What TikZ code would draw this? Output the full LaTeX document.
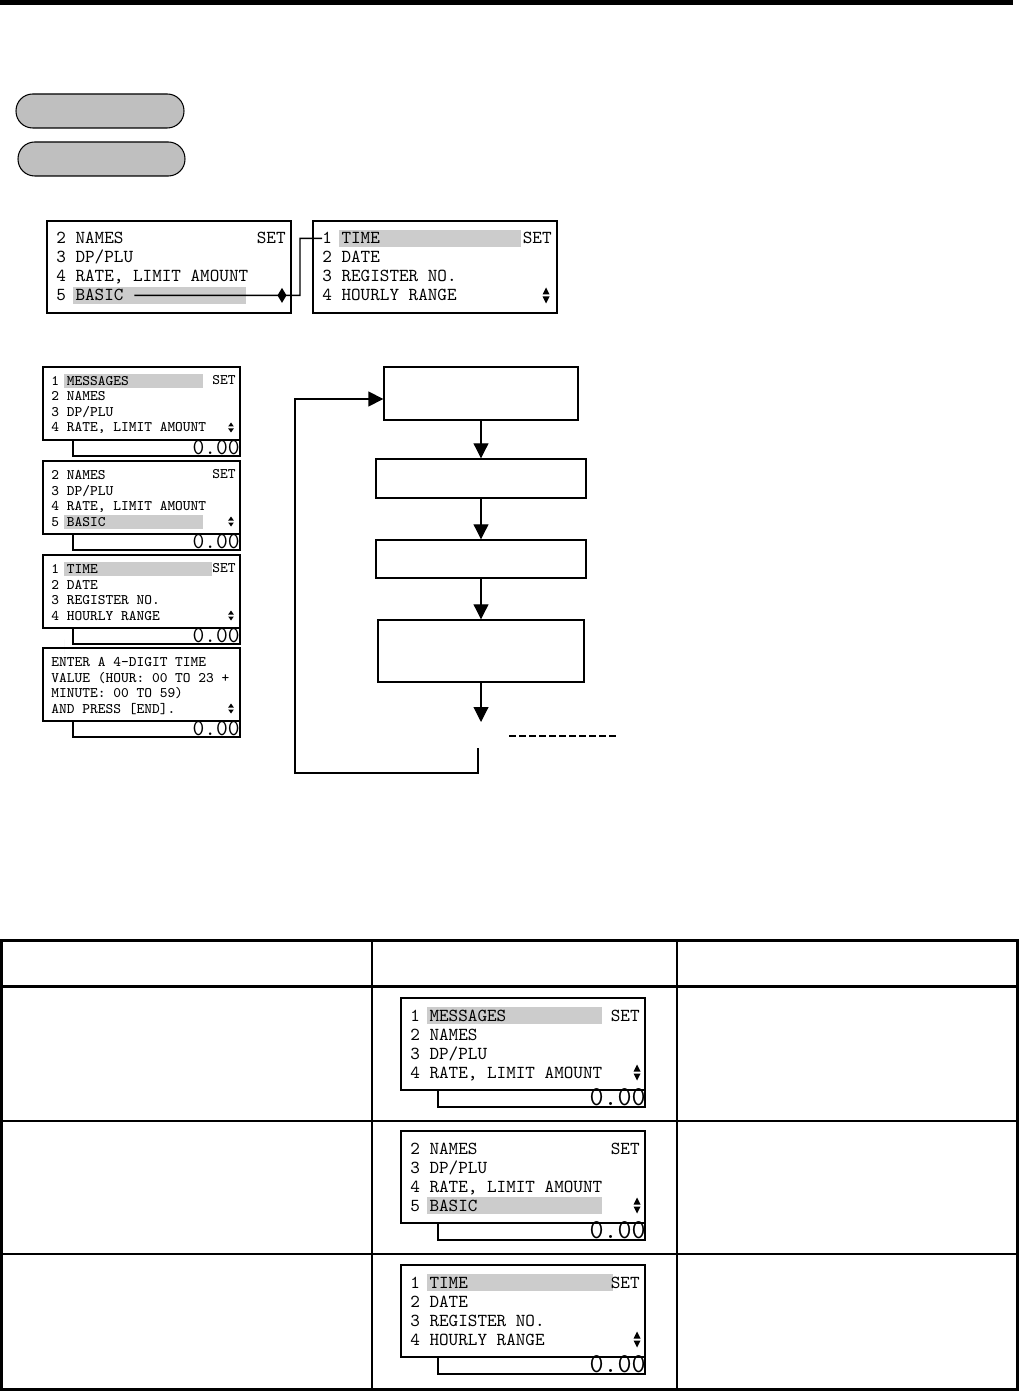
\documentclass[tikz,border=0pt]{standalone}
\usepackage{tikz}
\usetikzlibrary{arrows.meta}

% two-line-high up/down mark: x, y, half height, half width
\newcommand{\updown}[4]{%
  \fill (#1-#4,#2-1) -- (#1+#4,#2-1) -- (#1,#2-#3) -- cycle;
  \fill (#1-#4,#2+1) -- (#1+#4,#2+1) -- (#1,#2+#3) -- cycle;}

% large menu screen: name, left, top, lit line, lit end, lines
\newcommand{\bigdisp}[6]{%
  \fill[hl] (#2+26,#3+19*#4-10) rectangle (#2+#5,#3+19*#4+7);
  \draw[lcd] (#2,#3) rectangle (#2+244,#3+92);
  \foreach \entry [count=\i] in {#6}
    \node[bigtext] (#1-\i) at (#2+9,#3+19*\i+4) {\entry};
  \node[bigtext, anchor=base east] (#1-set) at (#2+239,#3+23) {SET};}

% readout under a large screen: name, left, top
\newcommand{\bigvalue}[3]{%
  \draw[lcd] (#2+37,#3+92) |- (#2+244,#3+109) -- (#2+244,#3+92);
  \node[bigval] (#1-val) at (#2+245,#3+107) {0.00};}

% small screen with readout: name, top, lit line, lit end, right text, lines
\newcommand{\smalldisp}[6]{%
  \fill[hl] (64,#2+15.5*#3-8.5) rectangle (#4,#2+15.5*#3+5.5);
  \draw[lcd] (43,#2) rectangle (240,#2+73);
  \draw[lcd] (73,#2+73) |- (240,#2+89) -- (240,#2+73);
  \foreach \entry [count=\i] in {#6}
    \node[smalltext] (#1-\i) at (51,#2+15.5*\i+3) {\entry};
  \node[smalltext, anchor=base east] (#1-set) at (236,#2+17.5) {#5};
  \updown{231}{#2+60.5}{5}{2.8}
  \node[smallval] (#1-val) at (240,#2+87.5) {0.00};}

\begin{document}
\begin{tikzpicture}[x=0.02cm, y=-0.02cm,
    lcd/.style={line width=0.8pt},
    hl/.style={fill=black!20},
    bigtext/.style={font=\ttfamily\fontsize{10.4}{12}\selectfont, inner sep=0pt, anchor=base west},
    smalltext/.style={font=\ttfamily\fontsize{8.3}{10}\selectfont, inner sep=0pt, anchor=base west},
    bigval/.style={font=\ttfamily\fontsize{15.5}{17}\selectfont, inner sep=0pt, anchor=base east},
    smallval/.style={font=\ttfamily\fontsize{13}{15}\selectfont, inner sep=0pt, anchor=base east},
    pill/.style={draw, line width=0.6pt, fill=black!25, rounded corners=9.5pt, minimum height=0.68cm},
    flowbox/.style={draw, line width=0.8pt},
    flow/.style={line width=0.6pt, -{Triangle[length=8.5pt,width=8.5pt]}},
    rule/.style={line width=1.7pt},
    thinrule/.style={line width=0.9pt}]
    \useasboundingbox (0,0) rectangle (1019,1391);

    % --- HEADER BAR AND KEYS ---
    \fill (0,0) rectangle (1013,5);
    \node[pill, minimum width=3.36cm] (btn1) at (100,111) {};
    \node[pill, minimum width=3.34cm] (btn2) at (101.5,159) {};

    % --- MENU SCREENS (TOP) ---
    \bigdisp{menuA}{47}{221}{4}{199}{{2 NAMES},{3 DP/PLU},{4 RATE, LIMIT AMOUNT},{5 BASIC}}
    \bigdisp{menuB}{313}{221}{1}{208}{{1 TIME},{2 DATE},{3 REGISTER NO.},{4 HOURLY RANGE}}
    \updown{546}{295.5}{8}{3.5}
    \coordinate (lit) at (282,295.4);
    \fill (lit) +(0,-7.5) -- +(4.5,0) -- +(0,7.5) -- +(-4.5,0) -- cycle;
    \draw[lcd] ([xshift=6pt]menuA-4.east) -- (lit) -- ++(18,0) |- (menuB-1.west);

    % --- SMALL SCREENS (LEFT) ---
    \smalldisp{stepA}{367}{1}{203}{SET}{{1 MESSAGES},{2 NAMES},{3 DP/PLU},{4 RATE, LIMIT AMOUNT}}
    \smalldisp{stepB}{461}{4}{203}{SET}{{2 NAMES},{3 DP/PLU},{4 RATE, LIMIT AMOUNT},{5 BASIC}}
    \smalldisp{stepC}{555}{1}{212}{SET}{{1 TIME},{2 DATE},{3 REGISTER NO.},{4 HOURLY RANGE}}
    \smalldisp{stepD}{648}{0}{64}{}{{ENTER A 4-DIGIT TIME},{VALUE (HOUR: 00 TO 23 +},{MINUTE: 00 TO 59)},{AND PRESS [END].}}

    % --- FLOW ---
    \node[flowbox, minimum width=3.88cm, minimum height=1.06cm] (step1) at (481,393.5) {};
    \node[flowbox, minimum width=4.2cm, minimum height=0.78cm] (step2) at (481,478.5) {};
    \node[flowbox, minimum width=4.2cm, minimum height=0.76cm] (step3) at (481,559) {};
    \node[flowbox, minimum width=4.12cm, minimum height=1.24cm] (step4) at (481,651) {};
    \coordinate (stepend) at (481,722);
    \coordinate (loopback) at (478,748);
    \draw[flow] (step1) -- (step2);
    \draw[flow] (step2) -- (step3);
    \draw[flow] (step3) -- (step4);
    \draw[flow] (step4) -- (stepend);
    \draw[flow, line width=0.8pt] (loopback) -- ++(0,25) -- ++(-183,0) |- ([yshift=-0.11cm]step1.west);
    \draw[line width=0.6pt, dash pattern=on 4pt off 1.7pt] (509,736) -- (617,736);

    % --- TABLE ---
    \draw[rule] (1.5,940) rectangle (1017.5,1389.5);
    \draw[rule] (1.5,986) -- (1017.5,986);
    \draw[thinrule] (372,940) -- (372,1389.5);
    \draw[thinrule] (677,940) -- (677,1389.5);
    \draw[thinrule] (1.5,1121) -- (1017.5,1121);
    \draw[thinrule] (1.5,1254) -- (1017.5,1254);

    \bigdisp{rowA}{401}{998}{1}{201}{{1 MESSAGES},{2 NAMES},{3 DP/PLU},{4 RATE, LIMIT AMOUNT}}
    \bigvalue{rowA}{401}{998}
    \updown{637}{998+74.5}{8}{3.5}
    \bigdisp{rowB}{401}{1131}{4}{201}{{2 NAMES},{3 DP/PLU},{4 RATE, LIMIT AMOUNT},{5 BASIC}}
    \bigvalue{rowB}{401}{1131}
    \updown{637}{1131+74.5}{8}{3.5}
    \bigdisp{rowC}{401}{1265}{1}{212}{{1 TIME},{2 DATE},{3 REGISTER NO.},{4 HOURLY RANGE}}
    \bigvalue{rowC}{401}{1265}
    \updown{637}{1265+74.5}{8}{3.5}
\end{tikzpicture}
\end{document}
